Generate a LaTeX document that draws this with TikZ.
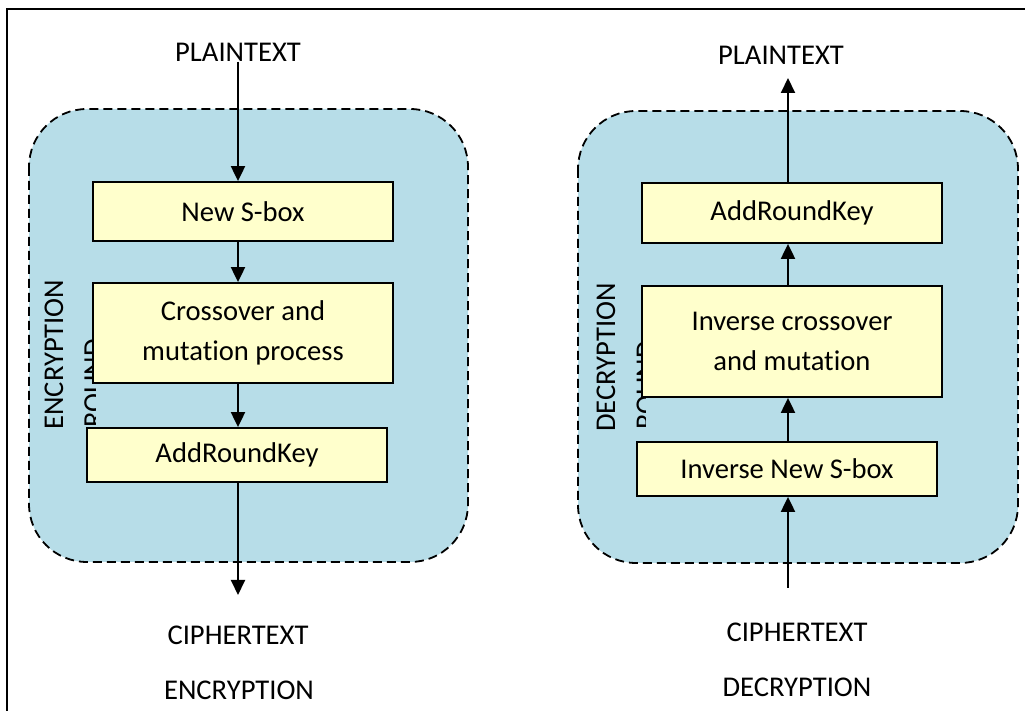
\documentclass[tikz,border=0pt]{standalone}
\usepackage{fontspec}
\setmainfont{Carlito}[Ligatures={NoCommon}]
\usetikzlibrary{arrows.meta}
\definecolor{roundblue}{RGB}{183,221,232}
\definecolor{stageyellow}{RGB}{255,255,204}

\begin{document}
\begin{tikzpicture}[x=0.5pt,y=-0.5pt,
  font=\fontsize{14.3}{20}\selectfont,
  >={Triangle[length=7.5pt,width=7pt]},
  panel/.style={draw,dash pattern=on 4.5pt off 2.5pt,line width=0.9pt,fill=roundblue,rounded corners=29pt},
  stage/.style={draw,line width=0.9pt,fill=stageyellow,minimum width=150pt,align=center,inner sep=0pt},
  flow/.style={->,line width=1pt},
  lbl/.style={inner sep=0pt},
  sidelbl/.style={rotate=90,anchor=base west,inner sep=0pt}]
\useasboundingbox (0,0) rectangle (1025,711);
\draw[line width=1.4pt] (7,711) -- (7,9) -- (1025,9);

% the two rounds
\draw[panel] (29,109) rectangle (468,562);
\draw[panel] (578,111) rectangle (1018,563);

\node[sidelbl] (sideE) at (63,430) {ENCRYPTION};
\begin{scope}
\clip (29,109) rectangle (95,562);
\node[sidelbl] (sideEr) at (103,428) {ROUND};
\end{scope}
\node[sidelbl] (sideD) at (615,432) {DECRYPTION};
\begin{scope}
\clip (578,111) rectangle (645,563);
\node[sidelbl] (sideDr) at (655,430) {ROUND};
\end{scope}

% encryption
\node[lbl] (plainE) at (238,52) {PLAINTEXT};
\node[stage,minimum height=29.5pt] (sbox) at (243,211.5) {New S-box};
\node[stage,minimum height=50pt] (cross) at (243,333) {Crossover and\\mutation process};
\node[stage,minimum height=27pt] (arkE) at (237,455) {AddRoundKey};
\coordinate (outE) at (238,595);
\node[lbl] (cipherE) at (238,635) {CIPHERTEXT};
\node[lbl] (titleE) at (239,690) {ENCRYPTION};

\draw[flow] (plainE.south) -- (plainE.south |- sbox.north);
\draw[flow] (sbox.south -| plainE) -- (cross.north -| plainE);
\draw[flow] (cross.south -| plainE) -- (arkE.north -| plainE);
\draw[flow] (arkE.south -| plainE) -- (outE);

% decryption
\node[lbl] (plainD) at (781,55) {PLAINTEXT};
\coordinate (topD) at (788,78);
\node[stage,minimum height=30pt] (arkD) at (792,213) {AddRoundKey};
\node[stage,minimum height=55.5pt] (icross) at (792,341.5) {Inverse crossover\\and mutation};
\node[stage,minimum height=27pt] (isbox) at (787,469) {Inverse New S-box};
\coordinate (inD) at (788,588);
\node[lbl] (cipherD) at (797,632) {CIPHERTEXT};
\node[lbl] (titleD) at (797,687) {DECRYPTION};

\draw[flow] (inD) -- (isbox.south -| inD);
\draw[flow] (isbox.north -| inD) -- (icross.south -| inD);
\draw[flow] (icross.north -| inD) -- (arkD.south -| inD);
\draw[flow] (arkD.north -| inD) -- (topD);
\end{tikzpicture}
\end{document}
